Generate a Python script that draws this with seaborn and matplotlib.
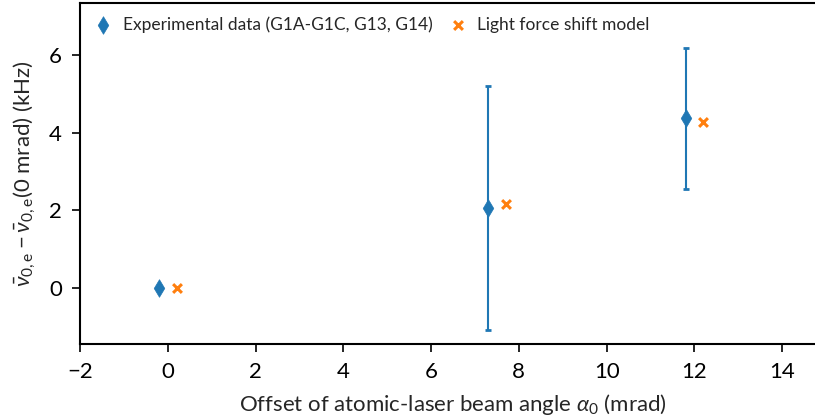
import matplotlib
matplotlib.use('Agg')
import matplotlib.pyplot as plt
import seaborn as sns
import pandas as pd

# experimental data (x offset in mrad, shift in kHz, 1-sigma error)
exp_x = [-0.2, 7.3, 11.8]
exp_y = [0.0, 2.07, 4.37]
exp_err = [0.0, 3.15, 1.83]

# light force shift model
model_x = [0.2, 7.7, 12.2]
model_y = [0.0, 2.17, 4.27]

sns.set_style('ticks')
plt.rcParams['font.family'] = ['Lato', 'DejaVu Sans']
plt.rcParams['mathtext.fontset'] = 'custom'
plt.rcParams['mathtext.rm'] = 'Lato'
plt.rcParams['mathtext.it'] = 'Lato:italic'

blue = '#1f77b4'
orange = '#ff7f0e'

fig = plt.figure(figsize=(8.15, 4.2), dpi=100)
ax = fig.add_axes([80 / 815, 76 / 420, 746 / 815, 341 / 420])

df_exp = pd.DataFrame({'x': exp_x, 'y': exp_y})
df_mod = pd.DataFrame({'x': model_x, 'y': model_y})

ax.errorbar(exp_x, exp_y, yerr=exp_err, fmt='none', ecolor=blue,
            elinewidth=1.5, capsize=2.5, capthick=2, zorder=2)
sns.scatterplot(data=df_exp, x='x', y='y', marker='d', s=80, color=blue,
                edgecolor=blue, linewidth=0.5, ax=ax, zorder=3,
                label='Experimental data (G1A-G1C, G13, G14)')
sns.scatterplot(data=df_mod, x='x', y='y', marker='x', s=40, color=orange,
                linewidth=2.2, ax=ax, zorder=3,
                label='Light force shift model')

ax.set_xlim(-2, 15)
ax.set_ylim(-1.45, 7.35)
ax.set_xticks(range(-2, 15, 2))
ax.set_yticks([0, 2, 4, 6])
ax.tick_params(labelsize=16, length=6, width=1.2, pad=7, colors='black')
ax.spines['right'].set_visible(False)
for s in ax.spines.values():
    s.set_linewidth(1.5)
    s.set_color('black')

ax.set_xlabel(r'Offset of atomic-laser beam angle $\mathit{\alpha}_0$ (mrad)',
              fontsize=16, labelpad=7)
ax.set_ylabel(r'$\bar{\mathit{\nu}}_{0,\mathrm{e}}-\bar{\mathit{\nu}}_{0,\mathrm{e}}$(0 mrad) (kHz)',
              fontsize=16, labelpad=8)

ax.legend(loc='upper left', ncol=2, frameon=False, fontsize=12.5,
          handletextpad=0.5, handlelength=1.2, columnspacing=0.9,
          borderaxespad=0.35)

fig.savefig('out.png', dpi=100)
